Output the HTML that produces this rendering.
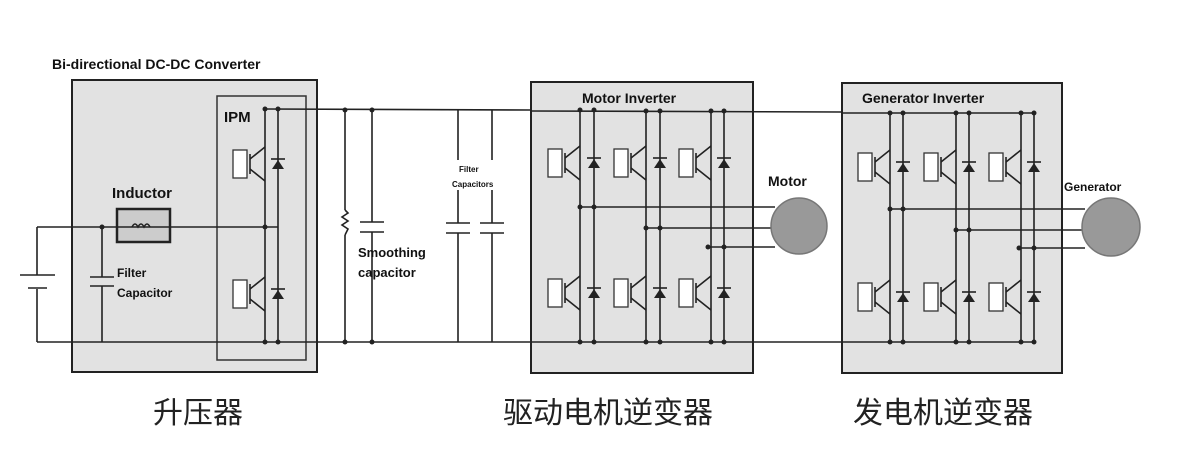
<!DOCTYPE html>
<html><head><meta charset="utf-8"><style>
html,body{margin:0;padding:0;background:#fff;}
svg{display:block;}
text{font-family:"Liberation Sans",Arial,sans-serif;font-weight:bold;fill:#111;}
.cn{font-family:"Liberation Sans","Noto Sans CJK SC",sans-serif;font-weight:normal;fill:#222;}
</style></head><body>
<svg id="s" width="1194" height="470" viewBox="0 0 1194 470" xmlns="http://www.w3.org/2000/svg">
<g stroke="#222" stroke-width="2" fill="#e2e2e2">
<rect x="72" y="80" width="245" height="292"/>
<rect x="531" y="82" width="222" height="291"/>
<rect x="842" y="83" width="220" height="290"/>
</g>
<rect x="217" y="96" width="89" height="264" fill="none" stroke="#333" stroke-width="1.5"/>
<g id="w" stroke="#222" stroke-width="1.6" fill="none"></g>
<text x="52" y="69" font-size="14">Bi-directional DC-DC Converter</text>
<text x="224" y="122" font-size="15">IPM</text>
<text x="112" y="198" font-size="15">Inductor</text>
<text x="117" y="277" font-size="12">Filter</text>
<text x="117" y="297" font-size="12">Capacitor</text>
<text x="358" y="257" font-size="13">Smoothing</text>
<text x="358" y="277" font-size="13">capacitor</text>
<text x="459" y="172" font-size="8">Filter</text>
<text x="452" y="187" font-size="8">Capacitors</text>
<text x="582" y="103" font-size="14">Motor Inverter</text>
<text x="862" y="103" font-size="14">Generator Inverter</text>
<text x="768" y="186" font-size="14">Motor</text>
<text x="1064" y="191" font-size="12">Generator</text>
<text class="cn" x="153" y="423" font-size="30">升压器</text>
<text class="cn" x="503" y="423" font-size="30">驱动电机逆变器</text>
<text class="cn" x="853" y="423" font-size="30">发电机逆变器</text>
</svg>
<script>
var g=document.getElementById('w'),h='';
function L(a,b,c,d){h+='<line x1="'+a+'" y1="'+b+'" x2="'+c+'" y2="'+d+'"/>';}
function dot(x,y){h+='<circle cx="'+x+'" cy="'+y+'" r="2.5" fill="#222" stroke="none"/>';}
function igbt(x,yc){h+='<rect x="'+(x-32)+'" y="'+(yc-14)+'" width="14" height="28" fill="#fff" stroke="#333" stroke-width="1.3"/>';
L(x-15,yc-10,x-15,yc+10);L(x-15,yc-5,x,yc-17);L(x-15,yc+5,x,yc+17);}
function diode(x,yc){h+='<polygon points="'+(x-6)+','+(yc+5)+' '+(x+6)+','+(yc+5)+' '+x+','+(yc-4)+'" fill="#222" stroke="none"/>';L(x-7,yc-5,x+7,yc-5);}
function leg(l,d,top,bot,y1,y2){L(l,top,l,bot);L(d,top,d,bot);igbt(l,y1);igbt(l,y2);diode(d,y1);diode(d,y2);dot(l,top);dot(d,top);dot(l,bot);dot(d,bot);}
// rails
L(265,109,531,110);L(531,111,842,112);L(842,113,1034,113);
L(37,342,1034,342);
// battery & left
L(37,227,278,227);L(37,227,37,275);L(37,289,37,342);L(20,275,55,275);L(28,288,47,288);
L(102,227,102,277);L(102,286,102,342);L(90,277,114,277);L(90,286,114,286);dot(102,227);
h+='<rect x="117" y="209" width="53" height="33" fill="#ccc" stroke="#222" stroke-width="2.5"/>';
L(117,227,170,227);h+='<path d="M132,227 q3,-6 6,0 q3,-6 6,0 q3,-6 6,0" stroke-width="1.5"/>';
// box1 leg
leg(265,278,109,342,164,294);dot(265,227);
// resistor & caps
L(345,110,345,210);L(345,235,345,342);h+='<path d="M345,210 l3,3 l-6,4 l6,4 l-6,4 l6,4 l-3,6"/>';dot(345,110);dot(345,342);
L(372,110,372,222);L(372,232,372,342);L(360,222,384,222);L(360,232,384,232);dot(372,110);dot(372,342);
L(458,110,458,160);L(458,190,458,223);L(458,233,458,342);L(446,223,470,223);L(446,233,470,233);
L(492,110,492,160);L(492,190,492,223);L(492,233,492,342);L(480,223,504,223);L(480,233,504,233);
// motor inverter
leg(580,594,110,342,163,293);leg(646,660,111,342,163,293);leg(711,724,111,342,163,293);
L(580,207,775,207);L(646,228,772,228);L(708,247,775,247);dot(580,207);dot(594,207);dot(646,228);dot(660,228);dot(708,247);dot(724,247);
h+='<circle cx="799" cy="226" r="28" fill="#999" stroke="#777" stroke-width="1.5"/>';
// gen inverter
leg(890,903,113,342,167,297);leg(956,969,113,342,167,297);leg(1021,1034,113,342,167,297);
L(890,209,1085,209);L(956,230,1083,230);L(1019,248,1085,248);dot(890,209);dot(903,209);dot(956,230);dot(969,230);dot(1019,248);dot(1034,248);
h+='<circle cx="1111" cy="227" r="29" fill="#999" stroke="#777" stroke-width="1.5"/>';
g.innerHTML=h;
</script>
</body></html>
